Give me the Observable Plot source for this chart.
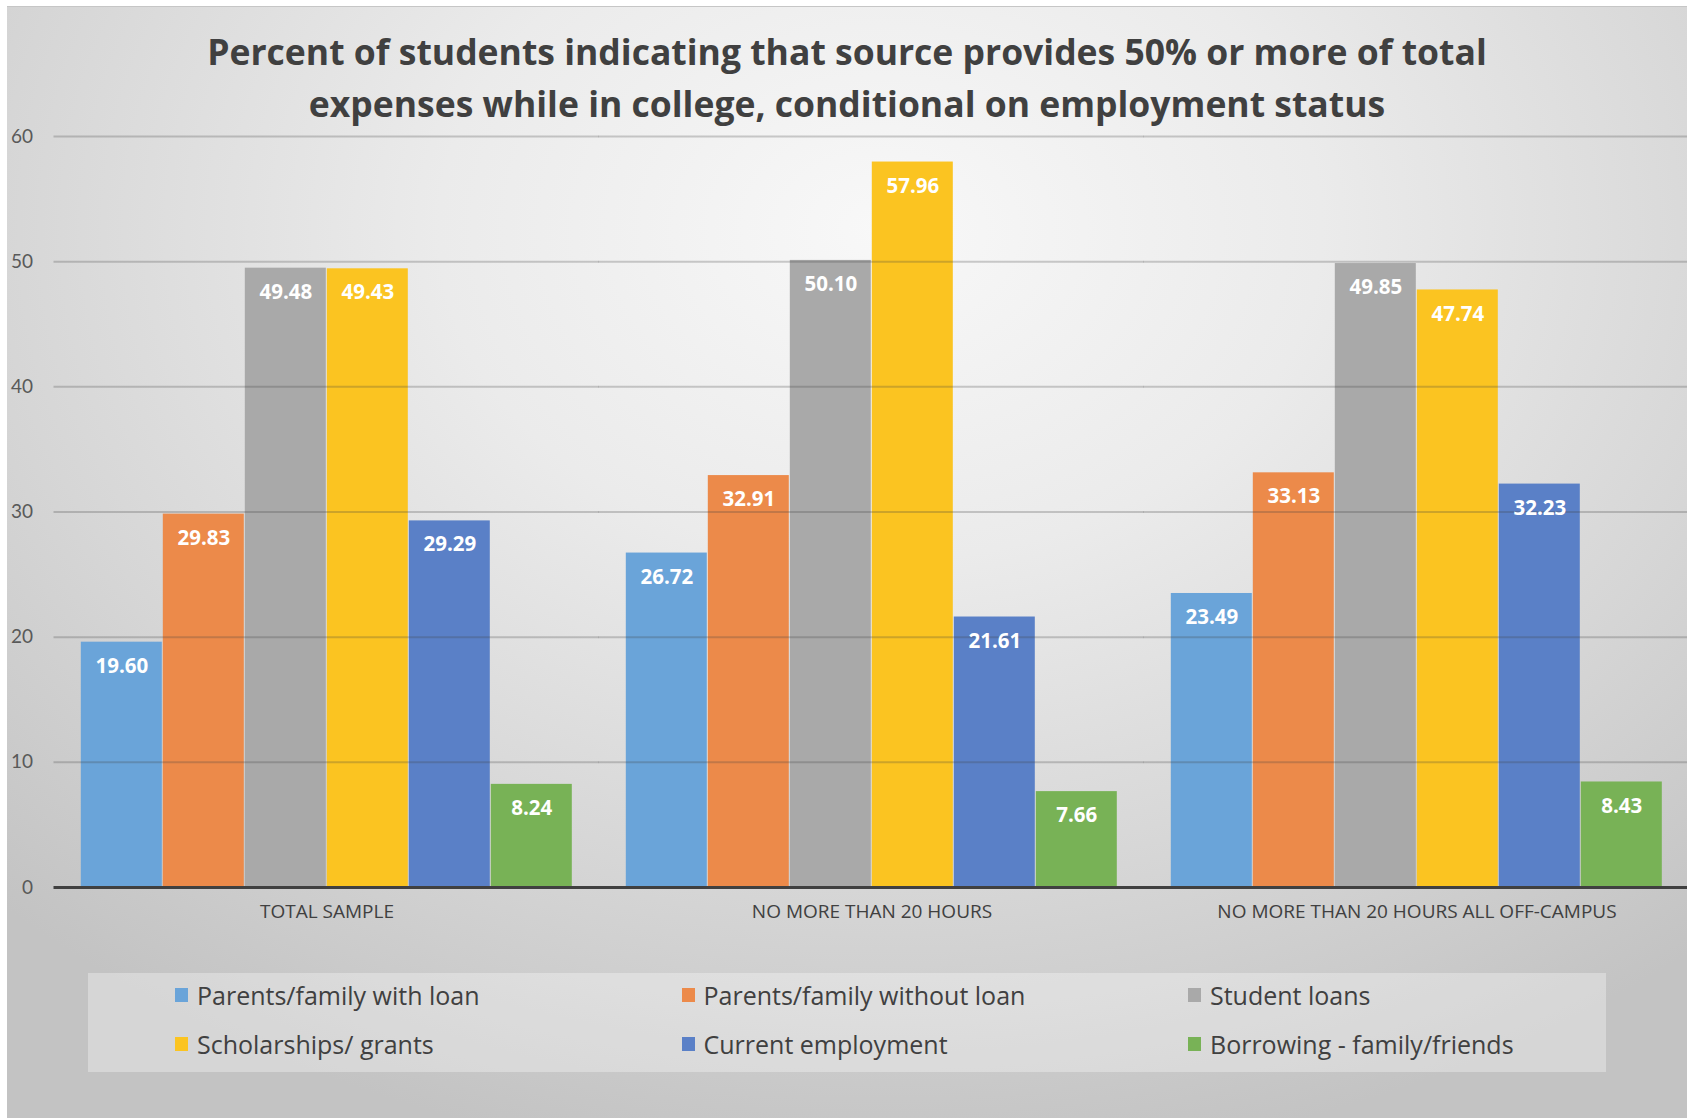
<!DOCTYPE html>
<html>
<head>
<meta charset="utf-8">
<script src="https://cdn.jsdelivr.net/npm/d3@7"></script>
<script src="https://cdn.jsdelivr.net/npm/@observablehq/plot@0.6"></script>
<style>
html, body { margin: 0; padding: 0; background: #fff; }
body { width: 1687px; height: 1118px; position: relative; overflow: hidden; font-family: "Open Sans", Lato, sans-serif; }
#chart { position: absolute; left: 7px; top: 6px; width: 1680px; height: 1112px; overflow: hidden;
  background: radial-gradient(ellipse 75% 85% at 52% 20%, #f8f8f8 0%, #ebebeb 35%, #d6d6d6 70%, #c3c3c3 100%);
  border-top: 1px solid #c6c6c6; box-sizing: border-box; }
#title { position: absolute; left: 0; top: 19px; width: 1680px; text-align: center; font-weight: 700;
  font-size: 35.5px; line-height: 51.5px; color: #404040; }
#plot { position: absolute; left: 0; top: 114px; }
#legend { position: absolute; left: 81px; top: 966px; width: 1518px; height: 99px; background: rgba(255,255,255,0.32); }
.item { position: absolute; display: flex; align-items: center; height: 30px; font-size: 25px; color: #404040; white-space: nowrap; }
.sw { width: 13px; height: 14px; margin-right: 9px; flex: none; }
</style>
</head>
<body>
<div id="chart">
  <div id="title">Percent of students indicating that source provides 50% or more of total<br>expenses while in college, conditional on employment status</div>
  <div id="plot"></div>
  <div id="legend"></div>
</div>
<script>
// ---- data ----
const groups = ["TOTAL SAMPLE", "NO MORE THAN 20 HOURS", "NO MORE THAN 20 HOURS ALL OFF-CAMPUS"];
const series = ["Parents/family with loan", "Parents/family without loan", "Student loans",
                "Scholarships/ grants", "Current employment", "Borrowing - family/friends"];
const totalSample      = [19.60, 29.83, 49.48, 49.43, 29.29, 8.24];
const upTo20Hours      = [26.72, 32.91, 50.10, 57.96, 21.61, 7.66];
const upTo20OffCampus  = [23.49, 33.13, 49.85, 47.74, 32.23, 8.43];
const colors = ["#6aa4d9", "#ec8a4a", "#a9a9a9", "#fbc421", "#5a80c7", "#78b256"];
const yTicks = [0, 10, 20, 30, 40, 50, 60];

const table = [];
[totalSample, upTo20Hours, upTo20OffCampus].forEach((vals, gi) =>
  vals.forEach((v, si) => table.push({group: groups[gi], series: series[si], value: v})));
const gridTicks = yTicks.filter(d => d > 0);

const chart = Plot.plot({
  width: 1680, height: 820,
  marginTop: 15, marginBottom: 54, marginLeft: 49.7, marginRight: 1.2,
  style: {background: "transparent", fontFamily: "'Open Sans', Lato, sans-serif", overflow: "visible"},
  fx: {domain: groups, paddingInner: 0.092, paddingOuter: 0.04, label: null, axis: null},
  x: {domain: series, padding: 0, axis: null},
  y: {domain: [0, 60], axis: null},
  color: {domain: series, range: colors},
  marks: [
    Plot.barY(table, {fx: "group", x: "series", y: "value", fill: "series", insetLeft: 0.5, insetRight: 0.5}),
    Plot.ruleY(gridTicks, {stroke: "#404040", strokeOpacity: 0.25, strokeWidth: 2, insetLeft: -25.5, insetRight: -25}),
    Plot.ruleY([0], {stroke: "#404040", strokeWidth: 3, insetLeft: -25.5, insetRight: -25}),
    Plot.text(table, {fx: "group", x: "series", y: "value", text: d => d.value.toFixed(2), dy: 24,
      fill: "white", fontWeight: "bold", fontSize: 20.5}),
    Plot.axisY(yTicks, {anchor: "left", tickSize: 0, tickPadding: 46.5, fontSize: 19, fill: "#595959", label: null,
      fontFamily: "Lato, 'Open Sans', sans-serif"}),
    Plot.axisFx({anchor: "bottom", tickSize: 0, tickPadding: 17, fontSize: 19, fill: "#404040", label: null})
  ]
});
document.getElementById("plot").appendChild(chart);

// ---- legend ----
const legend = document.getElementById("legend");
series.forEach((s, i) => {
  const col = i % 3, row = Math.floor(i / 3);
  const item = document.createElement("div");
  item.className = "item";
  item.style.left = (87 + col * 506.5) + "px";
  item.style.top = (22 + row * 49 - 15) + "px";
  const sw = document.createElement("span");
  sw.className = "sw";
  sw.style.background = colors[i];
  const tx = document.createElement("span");
  tx.textContent = s;
  item.appendChild(sw);
  item.appendChild(tx);
  legend.appendChild(item);
});
</script>
</body>
</html>
